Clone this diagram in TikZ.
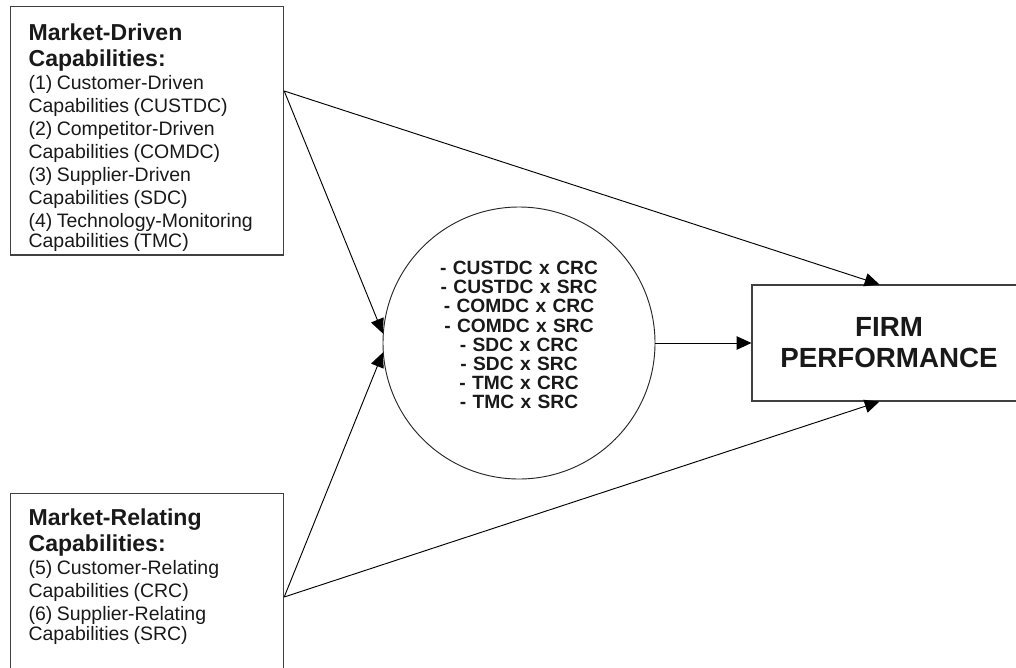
\documentclass[tikz,border=0pt]{standalone}
\usepackage{fontspec}
\setmainfont{Liberation Sans}
\usetikzlibrary{arrows.meta,calc}
\newcommand{\headfont}{\fontsize{17.3}{19.5}\selectfont\bfseries}
\newcommand{\bodyfont}{\fontsize{14.6}{17.25}\selectfont}

\begin{document}
\begin{tikzpicture}[x = 0.75pt, y = -0.75pt,
  capbox/.style = {draw = black!75, line width = 0.9pt, anchor = north west, text width = 177.75pt,
    inner xsep = 13.5pt, inner ysep = 0pt, align = left, text = black!90},
  link/.style = {-{Triangle[length = 11pt, width = 10pt]}, line width = 0.7pt}]
\useasboundingbox (0,0) rectangle (1016,667);
\node[capbox] (mdc) at (10,6) {\rule{0pt}{25.5pt}{\headfont Market-Driven\\Capabilities:\par}
  \bodyfont (1) Customer-Driven\\Capabilities (CUSTDC)\\(2) Competitor-Driven\\Capabilities (COMDC)\\
  (3) Supplier-Driven\\Capabilities (SDC)\\(4) Technology-Monitoring\\Capabilities (TMC)\rule[-6pt]{0pt}{0pt}};
\node[capbox] (mrc) at (10,493) {\rule{0pt}{24pt}{\headfont Market-Relating\\Capabilities:\par}
  \bodyfont (5) Customer-Relating\\Capabilities (CRC)\\(6) Supplier-Relating\\Capabilities (SRC)\rule[-30pt]{0pt}{0pt}};
\node[circle, draw = black!85, line width = 0.7pt, minimum size = 204pt, inner sep = 0pt, text width = 125pt,
  align = center, text = black!90, font = \fontsize{14.4}{14.4}\selectfont\bfseries] (inter) at (519,343)
  {- CUSTDC x CRC\\- CUSTDC x SRC\\- COMDC x CRC\\- COMDC x SRC\\- SDC x CRC\\- SDC x SRC\\- TMC x CRC\\- TMC x SRC\rule[-12pt]{0pt}{0pt}};
\node[draw = black!75, line width = 0.9pt, minimum width = 205.5pt, minimum height = 87pt, align = center,
  text = black!90, font = \fontsize{20.8}{23.25}\selectfont\bfseries] (perf) at (889,343) {FIRM\\PERFORMANCE};
\coordinate (mdcout) at ($(mdc.north east)+(0,85)$);
\coordinate (mrcout) at ($(mrc.north east)+(0,104)$);
\coordinate (perfin1) at ($(perf.north west)+(128,0)$);
\coordinate (perfin2) at ($(perf.south west)+(128,0)$);
\draw[link] (mdcout) -- (perfin1);
\draw[link] (mdcout) -- (inter.176);
\draw[link] (mrcout) -- (inter.184);
\draw[link] (mrcout) -- (perfin2);
\draw[link] (inter.east) -- (perf.west);
\end{tikzpicture}
\end{document}
